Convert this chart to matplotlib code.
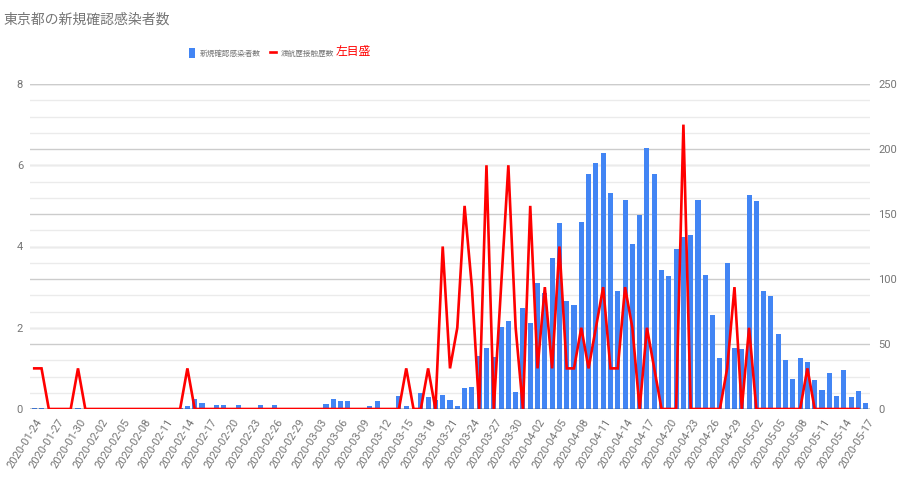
import numpy as np
import pandas as pd
import matplotlib
matplotlib.use("Agg")
import matplotlib.pyplot as plt
import matplotlib.transforms as mtransforms

plt.rcParams['font.family'] = ['Roboto', 'Noto Sans CJK JP', 'DejaVu Sans']

# ---- data ----
dates = pd.date_range("2020-01-24", "2020-05-17", freq="D").strftime("%Y-%m-%d").tolist()

new_cases = [
    1, 1, 0, 0, 0, 0, 1, 0,                                  # Jan 24-31
    0, 0, 0, 0, 0, 0, 0, 0, 0, 0, 0, 0, 1, 2, 8, 5, 0, 3, 3, 0,  # Feb 1-20
    3, 1, 0, 3, 0, 3, 1, 0, 1,                               # Feb 21-29
    1, 0, 1, 4, 8, 6, 6, 0, 0, 2, 6, 1, 1, 10, 2, 0, 12, 9, 7, 11,  # Mar 1-20
    7, 2, 16, 17, 41, 47, 40, 63, 68, 13, 78,                # Mar 21-31
    66, 97, 89, 116, 143, 83, 80, 144, 181, 189, 197, 166, 91, 161, 127,  # Apr 1-15
    149, 201, 181, 107, 102, 123, 132, 134, 161, 103, 72, 39, 112, 47, 46,  # Apr 16-30
    165, 160, 91, 87, 58, 38, 23, 39, 36, 22, 15, 28, 10, 30, 9, 14, 5,  # May 1-17
]

travel_contact = [
    1, 1, 0, 0, 0, 0, 1, 0,                                  # Jan 24-31
    0, 0, 0, 0, 0, 0, 0, 0, 0, 0, 0, 0, 0, 1, 0, 0, 0, 0, 0, 0,  # Feb 1-20
    0, 0, 0, 0, 0, 0, 0, 0, 0,                               # Feb 21-29
    0, 0, 0, 0, 0, 0, 0, 0, 0, 0, 0, 0, 0, 0, 1, 0, 0, 1, 0, 4,  # Mar 1-20
    1, 2, 5, 3, 0, 6, 0, 3, 6, 2, 0,                         # Mar 21-31
    5, 1, 3, 1, 4, 1, 1, 2, 1, 2, 3, 1, 1, 3, 2,             # Apr 1-15
    0, 2, 1, 0, 0, 0, 7, 0, 0, 0, 0, 0, 1, 3, 0,             # Apr 16-30
    2, 0, 0, 0, 0, 0, 0, 0, 1, 0, 0, 0, 0, 0, 0, 0,          # May 1-16
]

left_ticks = [0, 2, 4, 6, 8]
right_ticks = [0, 50, 100, 150, 200, 250]

series_names = ["新規確認感染者数", "渡航歴接触歴数"]
title = "東京都の新規確認感染者数"
axis_note = "左目盛"

# ---- figure ----
W, H = 905, 483
fig = plt.figure(figsize=(W / 100, H / 100), dpi=100)
ax = fig.add_axes([30 / W, 74 / H, 840 / W, 325 / H])

x = np.arange(len(dates))
bars = ax.bar(x, new_cases, width=0.7, color='#4285F4', zorder=2, linewidth=0)
ax.set_xlim(-0.58, len(dates) - 1 + 0.58)
ax.set_ylim(0, 250)

# grid
ax.set_yticks(right_ticks)
ax.set_yticks(np.arange(0, 250.01, 12.5), minor=True)
ax.grid(which='minor', axis='y', color='#ebebeb', lw=1.0, zorder=0)
ax.grid(which='major', axis='y', color='#cccccc', lw=1.0, zorder=0)
for v in left_ticks:
    ax.axhline(v * 250 / 8, color='#cccccc', lw=1.0, zorder=0.5)
ax.axhline(0, color='#333333', lw=1.0, zorder=3)

ax2 = ax.twinx()
line, = ax2.plot(x[:len(travel_contact)], travel_contact, color='#ff0000', lw=1.9,
                 solid_joinstyle='miter', zorder=3)
ax2.set_ylim(0, 8)
ax2.set_yticks(left_ticks)

ax.yaxis.tick_right()
ax2.yaxis.tick_left()

for a in (ax, ax2):
    for s in a.spines.values():
        s.set_visible(False)
    a.tick_params(axis='both', which='both', length=0, colors='#757575', labelsize=8)
ax.tick_params(axis='y', pad=6)
ax2.tick_params(axis='y', pad=5)

ax.set_xticks(x[::3])
ax.set_xticklabels(dates[::3], rotation=58, ha='right', va='center',
                   rotation_mode='anchor', fontsize=8, color='#757575')
ax.tick_params(axis='x', pad=7.5)
offset = mtransforms.ScaledTranslation(5.5 / 100, 0, fig.dpi_scale_trans)
for lab in ax.get_xticklabels():
    lab.set_transform(lab.get_transform() + offset)

# title
fig.text(3 / W, 1 - 20 / H, title, fontsize=10, color='#757575', va='center', ha='left')

# legend
fig.legend(handles=[bars, line], labels=series_names, loc='center left',
           bbox_to_anchor=(189 / W, 1 - 53 / H), frameon=False, ncol=2, fontsize=5.5,
           handlelength=0.8, handleheight=1.6, handletextpad=0.6, columnspacing=1.2,
           borderpad=0, borderaxespad=0, labelcolor='#757575')
fig.text(336 / W, 1 - 52 / H, axis_note, fontsize=8.5, color='#ff0000', va='center', ha='left')

fig.savefig("out.png", dpi=100)
